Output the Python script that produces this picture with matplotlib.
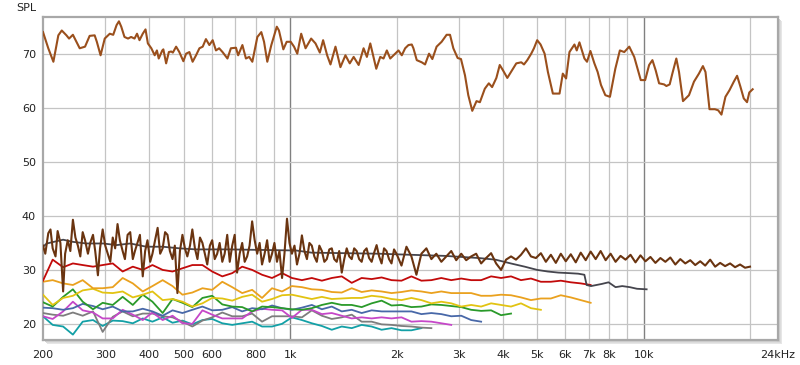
import matplotlib
matplotlib.use("Agg")
import matplotlib.pyplot as plt
from matplotlib.patches import Rectangle

# ---------------- data ----------------
# common log-spaced measurement grid (Hz)
FREQ = [200, 207, 213, 220, 228, 235, 243, 251, 259, 268,
        277, 286, 295, 305, 315, 325, 336, 347, 359, 370,
        383, 395, 408, 422, 436, 450, 465, 480, 496, 512,
        529, 547, 565, 583, 602, 622, 643, 664, 686, 708,
        732, 756, 781, 807, 833, 861, 889, 918, 949, 980,
        1012, 1046, 1080, 1116, 1152, 1190, 1230, 1270, 1312, 1355,
        1400, 1446, 1494, 1543, 1594, 1646, 1701, 1757, 1815, 1874,
        1936, 2000, 2066, 2134, 2204, 2277, 2352, 2430, 2510, 2592,
        2678, 2766, 2857, 2951, 3049, 3149, 3253, 3360, 3471, 3585,
        3704, 3826, 3952, 4082, 4217, 4355, 4499, 4647, 4801, 4959,
        5122, 5291, 5466, 5646, 5832, 6024, 6223, 6428, 6640, 6858,
        7084, 7318, 7559, 7809, 8066, 8332, 8606, 8890, 9183, 9486,
        9798, 10122, 10455, 10800, 11156, 11524, 11903, 12296, 12701, 13120,
        13552, 13999, 14460, 14937, 15429, 15938, 16463, 17006, 17566, 18145,
        18743, 19361, 20000]

TOP_F = [200, 207, 214, 221, 226, 233, 237, 243, 254, 263,
         271, 280, 284, 291, 299, 309, 316, 323, 328, 333,
         340, 348, 355, 363, 369, 375, 383, 390, 396, 405,
         414, 420, 425, 435, 438, 446, 454, 461, 466, 476,
         486, 499, 508, 519, 530, 542, 554, 566, 578, 591,
         604, 617, 630, 644, 665, 680, 703, 713, 733, 750,
         766, 782, 808, 829, 844, 862, 885, 917, 930, 957,
         978, 1004, 1026, 1048, 1075, 1106, 1147, 1180, 1214, 1240,
         1273, 1301, 1344, 1388, 1434, 1475, 1513, 1563, 1614, 1649,
         1686, 1753, 1799, 1838, 1878, 1920, 1983, 2026, 2070, 2116,
         2162, 2209, 2233, 2282, 2357, 2409, 2472, 2526, 2597, 2683,
         2772, 2834, 2896, 2978, 3044, 3124, 3192, 3276, 3368, 3443,
         3555, 3649, 3728, 3833, 3918, 4003, 4116, 4244, 4364, 4508,
         4588, 4688, 4810, 4896, 5000, 5112, 5248, 5362, 5538, 5784,
         5908, 6036, 6170, 6374, 6470, 6584, 6802, 6918, 7072, 7258,
         7414, 7576, 7794, 8032, 8318, 8568, 8818, 9108, 9408, 9818,
         10102, 10366, 10592, 10820, 11062, 11428, 11600, 11852, 12060, 12376,
         12596, 12926, 13440, 13882, 14340, 14716, 14966, 15362, 15910, 16254,
         16606, 17042, 17490, 17996, 18386, 18784, 19202, 19616, 19908, 20350]
TOP_SPL = [74.1, 71.1, 68.6, 73.5, 74.4, 73.5, 72.9, 73.6, 71.1, 71.4,
           73.4, 73.5, 72.3, 69.8, 72.9, 73.8, 73.6, 75.4, 76.1, 75.1,
           73.2, 72.9, 73.2, 72.9, 73.8, 72.6, 73.8, 74.6, 72.0, 71.1,
           69.8, 70.7, 69.2, 70.7, 70.9, 68.3, 70.4, 70.5, 70.3, 71.4,
           70.4, 68.7, 70.1, 70.4, 68.6, 69.8, 71.1, 71.4, 72.8, 71.7,
           72.6, 70.7, 71.1, 70.4, 69.2, 71.1, 71.2, 69.8, 71.7, 69.2,
           69.5, 68.6, 73.2, 74.1, 72.3, 68.6, 71.7, 75.1, 74.4, 70.9,
           72.3, 72.3, 71.4, 70.1, 73.8, 71.1, 72.9, 72.0, 70.3, 72.6,
           69.8, 68.1, 71.4, 67.6, 69.8, 68.3, 69.5, 68.0, 71.1, 69.5,
           72.0, 67.3, 69.5, 69.2, 70.7, 69.2, 70.1, 70.7, 69.8, 71.1,
           71.7, 71.8, 71.1, 68.9, 68.5, 68.1, 70.1, 69.1, 71.4, 72.3,
           73.6, 73.6, 71.1, 69.3, 69.1, 66.1, 62.4, 59.5, 61.3, 61.1,
           63.6, 64.6, 63.9, 65.6, 68.0, 67.0, 65.6, 67.0, 68.3, 68.5,
           68.1, 68.9, 70.1, 71.1, 72.6, 71.8, 70.1, 66.7, 62.7, 62.7,
           66.4, 65.5, 70.4, 71.8, 70.7, 72.2, 69.2, 68.6, 70.6, 68.3,
           66.7, 64.3, 62.4, 62.1, 67.3, 70.7, 70.4, 71.4, 69.5, 65.2,
           65.2, 68.0, 68.9, 67.0, 64.6, 64.4, 64.1, 64.4, 66.4, 69.2,
           66.7, 61.3, 62.4, 64.9, 66.4, 67.8, 66.7, 59.8, 59.8, 59.6,
           58.8, 62.1, 63.3, 64.9, 66.0, 64.0, 61.8, 61.1, 62.9, 63.5]

# noisy dark-brown trace: finer resolution below 2 kHz
NOISY_F_LOW = [200, 203, 207, 210, 213, 217, 220, 224, 228, 231,
               235, 239, 243, 247, 251, 255, 259, 263, 268, 272,
               277, 281, 286, 290, 295, 300, 305, 310, 315, 320,
               325, 330, 336, 341, 347, 353, 359, 364, 370, 376,
               383, 389, 395, 402, 408, 415, 422, 429, 436, 443,
               450, 457, 465, 472, 480, 488, 496, 504, 512, 521,
               529, 538, 547, 556, 565, 574, 583, 593, 602, 612,
               622, 632, 643, 653, 664, 675, 686, 697, 708, 720,
               732, 744, 756, 768, 781, 794, 807, 820, 833, 847,
               861, 875, 889, 903, 918, 933, 949, 964, 980, 996,
               1012, 1029, 1046, 1063, 1080, 1098, 1116, 1134, 1152, 1171,
               1190, 1210, 1230, 1250, 1270, 1291, 1312, 1333, 1355, 1377,
               1400, 1423, 1446, 1470, 1494, 1518, 1543, 1568, 1594, 1620,
               1646, 1673, 1701, 1729, 1757, 1786, 1815, 1844, 1874, 1905,
               1936, 1968]
NOISY_SPL_LOW = [34.5, 33.0, 36.8, 37.5, 34.0, 32.5, 37.2, 35.0, 26.0, 33.0,
                 35.5, 33.5, 39.3, 36.0, 34.5, 32.5, 37.0, 35.5, 33.0, 35.0,
                 36.5, 33.5, 29.0, 34.0, 37.5, 34.5, 33.0, 31.5, 36.0, 34.0,
                 38.5, 35.5, 33.5, 32.0, 36.5, 37.0, 32.0, 33.5, 35.0, 36.5,
                 28.8, 33.5, 35.5, 31.5, 33.0, 35.5, 37.8, 33.0, 34.0, 37.0,
                 36.5, 33.5, 32.0, 34.5, 25.7, 33.5, 36.5, 34.0, 32.5, 34.5,
                 37.5, 34.0, 32.0, 36.0, 35.0, 33.0, 31.0, 34.5, 35.5, 32.0,
                 33.0, 35.0, 31.5, 33.0, 36.5, 31.5, 34.5, 36.5, 29.5, 33.0,
                 35.0, 31.5, 32.5, 34.5, 39.0, 35.5, 33.0, 35.0, 31.0, 33.0,
                 35.5, 31.5, 33.0, 35.0, 31.5, 33.5, 28.5, 33.0, 39.5, 35.0,
                 33.0, 34.5, 31.0, 33.0, 36.4, 33.5, 32.0, 35.0, 34.5, 32.5,
                 31.5, 34.5, 33.5, 31.5, 32.0, 33.8, 34.0, 32.0, 31.5, 33.5,
                 29.5, 32.0, 34.0, 32.5, 32.0, 34.0, 33.5, 32.0, 31.5, 33.5,
                 34.0, 32.2, 31.5, 33.2, 34.6, 32.5, 31.2, 34.0, 33.5, 32.0,
                 31.2, 33.8]
# from 2 kHz upward, on FREQ[71:]
NOISY_SPL_HIGH = [33.0, 30.8, 34.3, 32.5, 29.1, 33.0, 34.0, 32.0, 33.0,
                  31.5, 32.5, 33.5, 31.8, 33.0, 31.8, 32.5, 33.0, 31.2, 32.2,
                  33.1, 31.2, 30.0, 31.9, 32.5, 31.9, 32.8, 34.0, 32.5, 32.2,
                  33.1, 31.5, 32.8, 31.3, 33.0, 31.6, 32.9, 31.4, 33.2, 31.8,
                  33.4, 32.0, 33.5, 31.8, 33.0, 31.5, 32.6, 31.9, 32.8, 31.4,
                  32.7, 31.6, 32.4, 31.3, 32.2, 31.5, 32.3, 31.0, 32.0, 31.2,
                  31.8, 30.9, 31.6, 30.8, 31.9, 30.6, 31.3, 30.7, 31.2, 30.5,
                  31.0, 30.4, 30.6]

GRAY_F = [200, 205, 228, 243, 265, 296, 323, 353, 392, 436,
          486, 542, 673, 834, 1040, 1150, 1430, 1784, 2200, 2740,
          3420, 3810, 4210, 4610, 5000, 5360, 5740, 6160, 6530, 6800,
          6900, 7100, 7620, 7960, 8330, 8700, 9140, 9580, 10200]
GRAY_SPL = [34.3, 34.9, 35.6, 35.2, 34.9, 34.9, 34.6, 34.9, 34.3, 34.3,
            34.0, 33.8, 33.8, 33.7, 33.6, 33.2, 33.1, 33.0, 32.8, 32.6,
            32.2, 31.9, 31.2, 30.6, 30.0, 29.7, 29.5, 29.4, 29.3, 29.1,
            27.2, 27.0, 27.4, 27.7, 26.8, 27.0, 26.8, 26.5, 26.4]

# series below are sampled on every second point of FREQ
RED_SPL = [28.0, 31.9, 30.5, 31.2, 30.9, 30.6, 30.9, 31.2, 29.7, 30.6,
           30.0, 30.9, 30.0, 29.7, 30.3, 30.9, 30.9, 29.7, 28.8, 29.4,
           30.6, 30.0, 29.1, 28.5, 29.4, 28.5, 28.1, 28.5, 28.0, 28.5,
           28.8, 27.6, 28.5, 28.3, 28.6, 28.1, 28.0, 28.8, 28.0, 28.1,
           28.5, 28.1, 28.4, 28.1, 28.1, 28.8, 28.5, 28.8, 28.1, 28.4,
           27.8, 27.8, 28.0, 27.7, 27.5, 27.2]
ORANGE_SPL = [27.8, 28.1, 27.5, 27.2, 28.1, 26.6, 26.6, 26.8, 28.5, 27.5,
              26.0, 27.0, 28.1, 27.0, 25.4, 25.8, 26.6, 26.3, 27.8, 26.8,
              25.7, 26.3, 24.8, 26.6, 26.0, 27.0, 26.8, 26.4, 26.3, 25.9,
              25.8, 26.6, 25.9, 26.2, 26.0, 25.7, 25.9, 26.2, 26.0, 25.7,
              26.0, 25.7, 25.7, 25.7, 25.2, 25.2, 25.4, 25.3, 24.9, 24.4,
              24.7, 24.7, 25.3, 24.9, 24.4, 23.9]
YELLOW_SPL = [25.4, 23.5, 24.8, 25.2, 26.2, 26.5, 25.8, 25.7, 26.0, 24.9,
              25.4, 26.0, 24.4, 24.6, 24.1, 23.2, 23.8, 24.8, 24.7, 24.3,
              25.0, 25.4, 24.1, 24.6, 25.3, 25.4, 25.0, 24.6, 25.0, 24.6,
              24.7, 24.8, 24.8, 25.2, 25.0, 24.6, 24.4, 24.8, 24.4, 23.8,
              24.1, 23.8, 23.2, 23.5, 23.2, 23.8, 23.5, 23.2, 23.8, 22.9,
              22.6]
GREEN_SPL = [24.0, 23.2, 25.0, 26.4, 24.1, 22.7, 23.9, 23.5, 25.0, 23.5,
             25.4, 24.1, 22.0, 24.6, 23.9, 23.1, 24.8, 25.2, 23.6, 23.2,
             23.1, 22.3, 23.2, 23.1, 22.9, 22.7, 22.6, 22.9, 23.5, 23.9,
             23.5, 23.5, 23.1, 23.8, 24.3, 23.4, 23.5, 23.1, 23.2, 23.6,
             23.5, 23.3, 23.1, 22.6, 22.4, 22.5, 21.6, 21.9]
BLUE_SPL = [23.0, 22.9, 22.6, 22.9, 23.7, 23.3, 22.7, 23.2, 22.3, 22.3,
            22.8, 22.3, 21.5, 22.5, 22.0, 22.6, 23.2, 22.5, 22.6, 23.1,
            22.3, 22.9, 22.7, 23.4, 22.9, 22.6, 23.0, 23.5, 22.7, 23.2,
            22.3, 22.6, 22.0, 22.5, 22.3, 22.3, 22.3, 22.3, 21.8, 22.0,
            21.8, 21.4, 21.5, 20.7, 20.4]
MAGENTA_SPL = [21.4, 20.9, 22.3, 24.1, 22.5, 22.1, 21.0, 21.0, 22.6, 21.7,
               20.7, 22.1, 20.7, 21.5, 20.1, 20.0, 22.5, 21.7, 21.0, 21.0,
               21.0, 22.3, 22.8, 22.6, 22.5, 21.1, 22.6, 22.6, 21.8, 22.0,
               21.5, 21.0, 21.2, 21.0, 21.2, 21.0, 21.2, 20.4, 20.5, 20.4,
               20.1, 19.8]
LGRAY_SPL = [22.0, 21.7, 21.5, 22.1, 21.5, 22.3, 18.5, 21.3, 22.3, 21.4,
             21.9, 21.9, 21.4, 21.2, 20.4, 19.5, 20.6, 21.2, 22.1, 21.4,
             21.4, 21.9, 20.4, 21.4, 21.4, 21.4, 21.2, 22.5, 21.5, 20.9,
             21.2, 21.7, 20.4, 20.4, 19.9, 19.8, 19.6, 19.5, 19.3, 19.2]
TEAL_SPL = [21.4, 19.8, 19.5, 18.0, 20.4, 20.7, 19.6, 20.6, 20.5, 20.1,
            21.0, 20.4, 21.2, 20.2, 20.6, 19.9, 20.7, 20.9, 20.1, 19.8,
            20.1, 20.4, 19.5, 19.5, 20.0, 21.2, 20.7, 20.1, 19.6, 18.9,
            19.5, 19.2, 19.8, 19.5, 18.9, 19.2, 18.8, 18.8, 19.2]

X_TICKS = [200, 300, 400, 500, 600, 800, 1000, 2000, 3000, 4000,
           5000, 6000, 7000, 8000, 10000, 24000]
X_LABELS = ["200", "300", "400", "500", "600", "800", "1k", "2k", "3k", "4k",
            "5k", "6k", "7k", "8k", "10k", "24kHz"]
X_GRID = [300, 400, 500, 600, 700, 800, 900, 2000, 3000, 4000,
          5000, 6000, 7000, 8000, 9000, 20000]
X_DARK = [1000, 10000]
Y_TICKS = [20, 30, 40, 50, 60, 70]

# ---------------- figure ----------------
W, H = 800, 365
fig = plt.figure(figsize=(W / 100, H / 100), dpi=100)
fig.patch.set_facecolor("white")
L, B, AW, AH = 43 / W, 25 / H, 735 / W, 323 / H

# soft frame shadow
for off, col in [(4, "#e6e6e6"), (3, "#dcdcdc"), (2, "#d0d0d0")]:
    fig.add_artist(Rectangle((L + off / W, B - off / H), AW, AH,
                             transform=fig.transFigure, facecolor=col,
                             edgecolor="none", zorder=0))

ax = fig.add_axes([L, B, AW, AH], zorder=1)
ax.set_facecolor("white")
ax.set_xscale("log")
ax.set_xlim(200, 24000)
ax.set_ylim(17, 76.9)

for f in X_GRID:
    ax.axvline(f, color="#c4c4c4", lw=0.9, zorder=1)
for f in X_DARK:
    ax.axvline(f, color="#808080", lw=1.0, zorder=1)
for y in Y_TICKS:
    ax.axhline(y, color="#c4c4c4", lw=0.9, zorder=1)

ax.set_xticks(X_TICKS)
ax.set_xticklabels(X_LABELS)
ax.xaxis.set_minor_locator(matplotlib.ticker.NullLocator())
ax.set_yticks(Y_TICKS)
ax.set_yticklabels([str(v) for v in Y_TICKS])
ax.tick_params(axis="both", length=0, labelsize=8, colors="#222222")
ax.tick_params(axis="x", pad=7)
ax.tick_params(axis="y", pad=5)
for s in ax.spines.values():
    s.set_color("#a8a8a8")
    s.set_linewidth(1.6)

FREQ2 = FREQ[::2]
lower = [
    (TEAL_SPL, "#13a0a6"),
    (LGRAY_SPL, "#7d7d7d"),
    (MAGENTA_SPL, "#c547c8"),
    (BLUE_SPL, "#4868a8"),
    (GREEN_SPL, "#2a9a2a"),
    (YELLOW_SPL, "#e2c312"),
    (ORANGE_SPL, "#eaa11e"),
    (RED_SPL, "#c20a0a"),
]
for vals, col in lower:
    ax.plot(FREQ2[:len(vals)], vals, color=col, lw=1.3, zorder=3,
            solid_joinstyle="round")

ax.plot(GRAY_F, GRAY_SPL, color="#45454d", lw=1.3, zorder=4)
noisy_f = NOISY_F_LOW + FREQ[71:]
noisy_v = NOISY_SPL_LOW + NOISY_SPL_HIGH
ax.plot(noisy_f, noisy_v, color="#6a3410", lw=1.5, zorder=5,
        solid_joinstyle="round")
ax.plot(TOP_F, TOP_SPL, color="#9a4f1c", lw=1.5, zorder=6,
        solid_joinstyle="round")

fig.text(16 / W, 1 - 3 / H, "SPL", ha="left", va="top", fontsize=8,
         color="#222222")

fig.savefig("out.png", dpi=100, facecolor="white")
